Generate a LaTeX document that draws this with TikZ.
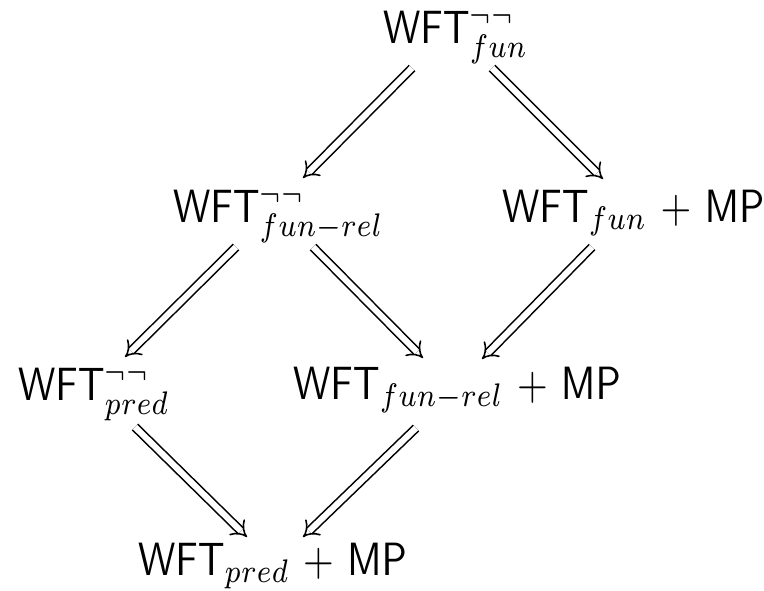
\documentclass[tikz,border=0pt]{standalone}
\usetikzlibrary{arrows.meta,calc}
\newcommand{\vstr}[1]{\scalebox{1}[1.18]{#1}}
\newcommand{\pl}{\mskip2mu+\mskip2mu}
\newcommand{\nn}{\raisebox{-1.3pt}{$\scriptstyle\neg\neg$}}
\begin{document}
\begin{tikzpicture}[x=0.253pt,y=-0.253pt,
  lbl/.style={anchor=base west,inner sep=0pt,outer sep=0pt},
  imp/.style={double,double equal sign distance,line width=0.4pt,-{Implies}}]
\useasboundingbox (0,0) rectangle (764,590);
\node[lbl] (t)  at (383,43)  {\vstr{$\mathsf{WFT}^{\nn}_{fun}$}};
\node[lbl] (ml) at (173,222) {\vstr{$\mathsf{WFT}^{\nn}_{fun-rel}$}};
\node[lbl] (mr) at (502,222) {\vstr{$\mathsf{WFT}_{fun}\pl\mathsf{MP}$}};
\node[lbl] (ll) at (18,400)  {\vstr{$\mathsf{WFT}^{\nn}_{pred}$}};
\node[lbl] (lm) at (293,399) {\vstr{$\mathsf{WFT}_{fun-rel}\pl\mathsf{MP}$}};
\node[lbl] (b)  at (138,575) {\vstr{$\mathsf{WFT}_{pred}\pl\mathsf{MP}$}};
\draw[imp] ([shift={(29,25)}]t.base west) -- ([shift={(130,-44)}]ml.base west);
\draw[imp] ([shift={(109,25)}]t.base west) -- ([shift={(101,-43)}]mr.base west);
\draw[imp] ([shift={(63,25)}]ml.base west) -- ([shift={(107,-43)}]ll.base west);
\draw[imp] ([shift={(140,25)}]ml.base west) -- ([shift={(130,-41)}]lm.base west);
\draw[imp] ([shift={(90,25)}]mr.base west) -- ([shift={(189,-40)}]lm.base west);
\draw[imp] ([shift={(117,27)}]ll.base west) -- ([shift={(109,-38)}]b.base west);
\draw[imp] ([shift={(123,29)}]lm.base west) -- ([shift={(165,-38)}]b.base west);
\end{tikzpicture}
\end{document}
